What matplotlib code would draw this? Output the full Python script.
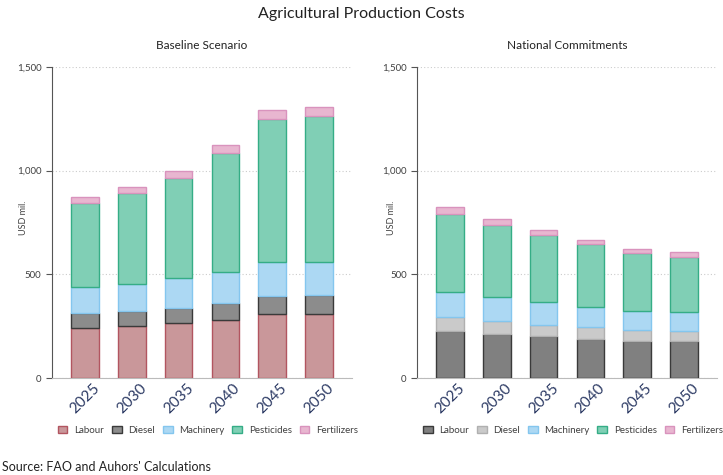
import numpy as np
from matplotlib import pyplot as plt

plt.rcParams['font.family'] = ['Lato', 'DejaVu Sans']

years = ['2025', '2030', '2035', '2040', '2045', '2050']
components = ['Labour', 'Diesel', 'Machinery', 'Pesticides', 'Fertilizers']

# baseline scenario, USD mil.
base_labour = [241, 250, 265, 281, 309, 310]
base_diesel = [71, 72, 75, 81, 88, 90]
base_machinery = [128, 133, 140, 149, 161, 160]
base_pesticides = [402, 435, 485, 574, 693, 702]
base_fertilizers = [33, 30, 35, 37, 40, 43]

# national commitments, USD mil.
nc_labour = [225, 210, 201, 190, 180, 177]
nc_diesel = [69, 63, 56, 54, 50, 48]
nc_machinery = [121, 116, 108, 100, 95, 91]
nc_pesticides = [377, 349, 323, 300, 276, 266]
nc_fertilizers = [31, 29, 27, 23, 23, 24]

faces_base = ['#c9979a', '#8c8c8c', '#acd8f3', '#80cfb5', '#e8b6d0']
edges_base = ['#b25560', '#3a3a3a', '#84c6ee', '#35ad86', '#d993bd']
faces_nc = ['#808080', '#cacaca', '#acd8f3', '#80cfb5', '#e8b6d0']
edges_nc = ['#3a3a3a', '#b0b0b0', '#84c6ee', '#35ad86', '#d993bd']


def drawPanel(ax, series, faces, edges, title, labelx):
    x = np.arange(len(years))
    bottom = np.zeros(len(years))
    for name, vals, fc, ec in zip(components, series, faces, edges):
        ax.bar(x, vals, 0.59, bottom=bottom, color=fc, edgecolor=ec,
               linewidth=1.0, label=name, zorder=3)
        bottom = bottom + np.array(vals)

    ax.set_xlim(-0.71, 5.71)
    ax.set_ylim(0, 1500)
    ax.set_yticks([0, 500, 1000, 1500])
    ax.set_yticklabels(['0', '500', '1,000', '1,500'], fontsize=7, color='#404040')
    ax.set_xticks(x)
    ax.set_xticklabels(years, rotation=45, fontsize=11, color='#2c3a64',
                       ha='center', va='top')
    ax.tick_params(axis='x', length=0, pad=2)
    ax.tick_params(axis='y', length=4, color='#555555', width=0.8)
    ax.grid(axis='y', linestyle=(0, (1, 2)), color='#cccccc', linewidth=0.8, zorder=0)
    for s in ['top', 'right']:
        ax.spines[s].set_visible(False)
    ax.spines['left'].set_color('#555555')
    ax.spines['bottom'].set_color('#bbbbbb')
    ax.set_ylabel('USD mil.', fontsize=6.5, color='#404040')
    ax.yaxis.set_label_coords(labelx, 0.515)
    ax.set_title(title, fontsize=8.5, color='#222222', pad=13)
    ax.legend(loc='center', bbox_to_anchor=(0.52, -0.168), ncol=5,
              frameon=False, fontsize=7, handlelength=1.0, handleheight=0.75,
              handletextpad=0.7, columnspacing=0.8, labelcolor='#404040')


fig = plt.figure(figsize=(7.23, 4.75), dpi=100)
ax1 = fig.add_axes([0.0719, 0.2042, 0.415, 0.6548])
ax2 = fig.add_axes([0.5768, 0.2042, 0.415, 0.6548])

drawPanel(ax1, [base_labour, base_diesel, base_machinery, base_pesticides, base_fertilizers],
          faces_base, edges_base, 'Baseline Scenario', -0.08)
drawPanel(ax2, [nc_labour, nc_diesel, nc_machinery, nc_pesticides, nc_fertilizers],
          faces_nc, edges_nc, 'National Commitments', -0.07)

fig.text(0.5, 0.985, 'Agricultural Production Costs', ha='center', va='top',
         fontsize=11.5, color='#222222')
fig.text(0.003, 0.004, "Source: FAO and Auhors' Calculations", ha='left', va='bottom',
         fontsize=9, color='#222222')

fig.savefig('out.png', dpi=100)
